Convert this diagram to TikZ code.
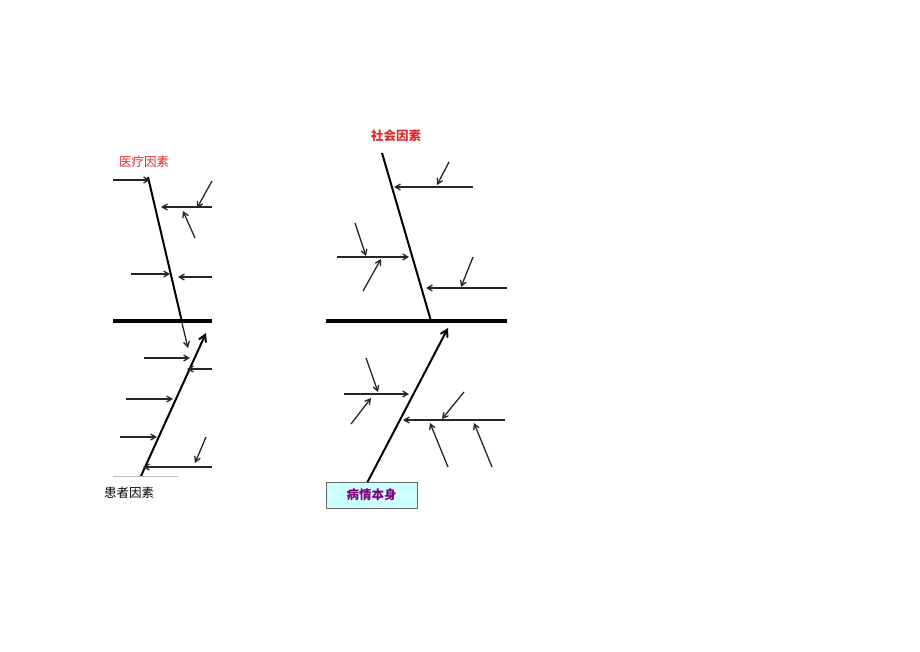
\documentclass[tikz,border=0pt]{standalone}
\usepackage{fontspec}
\newfontfamily\cjk{Noto Sans CJK SC}
\usetikzlibrary{arrows,positioning}
\definecolor{labelred}{RGB}{225,40,40}
\definecolor{boxfill}{RGB}{204,255,255}
\definecolor{boxtext}{RGB}{128,0,128}
\tikzset{
  spine/.style = {line width=4.5pt},
  bone/.style = {line width=2pt},
  cause/.style = {->, line width=1.3pt, black!85},
  title/.style = {font=\cjk\fontsize{12.5}{14}\selectfont, inner sep=0pt}
}

\begin{document}
\begin{tikzpicture}[x=1pt, y=-1pt, >=angle 60]
		\useasboundingbox (0,0) rectangle (920,651);
		% left fish
		\node [title, text=labelred] (medical) at (144,162) {医疗因素};
		\node [title] (patient) at (129,493) {患者因素};
		\draw [spine] (113,321) -- (212,321);
		\draw [bone] (148,177) -- (182,322);
		\draw [cause] (113,180) -- (150,180);
		\draw [cause] (212,207) -- (161,207);
		\draw [cause] (212,181) -- (197,208);
		\draw [cause] (195,238) -- (183,211);
		\draw [cause] (131,274) -- (170,274);
		\draw [cause] (212,277) -- (178,277);
		\draw [bone, ->] (141,476) -- (206,333);
		\draw [cause] (182,323) -- (188,348);
		\draw [cause] (144,358) -- (190,358);
		\draw [cause] (212,369) -- (187,369);
		\draw [cause] (126,399) -- (173,399);
		\draw [cause] (120,437) -- (157,437);
		\draw [cause] (212,467) -- (143,467);
		\draw [cause] (206,437) -- (195,463);
		\draw [black!25, line width=0.8pt] (113,476) -- (178,476);
		% right fish
		\node [title, font=\cjk\bfseries\fontsize{12.5}{14}\selectfont, text=labelred] (social) at (396,136) {社会因素};
		\draw [spine] (326,321) -- (507,321);
		\draw [bone] (382,153) -- (431,321);
		\draw [cause] (473,187) -- (394,187);
		\draw [cause] (449,162) -- (437,185);
		\draw [cause] (337,257) -- (409,257);
		\draw [cause] (355,223) -- (366,256);
		\draw [cause] (363,291) -- (381,259);
		\draw [cause] (507,288) -- (426,288);
		\draw [cause] (473,257) -- (461,287);
		\draw [bone, ->] (367,483) -- (448,328);
		\draw [cause] (344,394) -- (409,394);
		\draw [cause] (366,358) -- (378,392);
		\draw [cause] (351,424) -- (371,398);
		\draw [cause] (505,420) -- (403,420);
		\draw [cause] (464,392) -- (442,419);
		\draw [cause] (448,467) -- (430,423);
		\draw [cause] (492,467) -- (474,423);
		\node [draw=black!60, fill=boxfill, minimum width=91pt, minimum height=26pt,
			font=\cjk\bfseries\fontsize{12.5}{14}\selectfont, text=boxtext] (illness) at (371.5,495) {病情本身};
	\end{tikzpicture}
\end{document}
